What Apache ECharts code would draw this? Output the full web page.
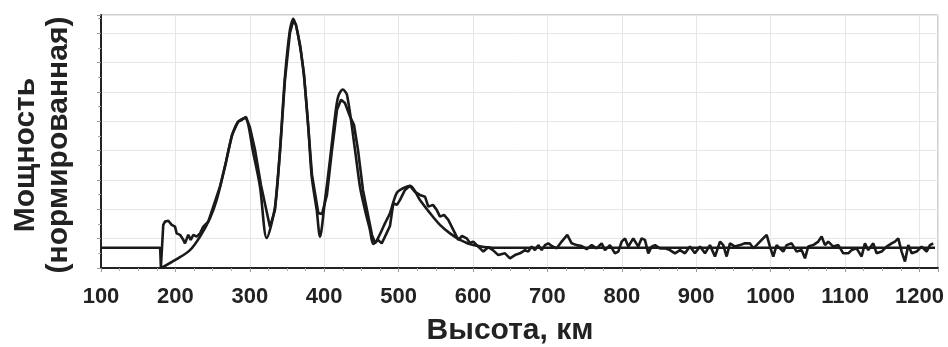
<!DOCTYPE html>
<html>
<head>
<meta charset="utf-8">
<script src="https://cdn.jsdelivr.net/npm/echarts@6/dist/echarts.min.js"></script>
<style>html,body{margin:0;padding:0;background:#fff}#c{width:948px;height:347px}</style>
</head>
<body>
<div id="c"></div>
<script>
// Model (smooth) profile: height (km) and normalized power
var modelKm = [181, 201.7, 219.6, 233.1, 246.5, 255.5, 266.7, 275.7, 284.5, 293.5, 304.7, 313.7, 322.7,
  333.9, 340.6, 347.3, 354.0, 358.5, 365.2, 371.9, 378.6, 383.2, 389.9, 394.3,
  401.1, 407.8, 414.5, 418.9, 424.8, 430.6, 441.4, 448.1, 454.8, 461.5, 466.0,
  484.0, 488.4, 497.4, 506.3, 515.3, 528.7, 542.2, 555.6, 569.1, 582.5, 600.4, 627.3, 1221];
var modelPower = [0, 0.30, 0.61, 1.07, 1.70, 2.32, 3.46, 4.48, 4.99, 5.11, 3.91, 2.77, 1.02,
  2.09, 4.03, 6.53, 8.12, 8.49, 7.89, 6.76, 4.82, 3.12, 1.98, 1.07,
  2.32, 3.69, 5.16, 5.85, 6.08, 5.90, 4.03, 2.77, 1.98, 1.30, 0.82,
  1.64, 1.87, 2.55, 2.72, 2.80, 2.32, 1.87, 1.47, 1.18, 0.96, 0.78, 0.69, 0.69];

// Measured (noisy) profile
var measKm = [100, 179.5, 180.5, 183.7, 186.0, 190.5, 195.0, 199.5, 201.7, 206.2, 210.6, 212.9, 217.3,
  220.6, 224.1, 228.6, 233.1, 237.5, 244.2, 250.9, 259.9, 268.0, 276.1, 284.1, 289.5, 294.9,
  300.3, 307.0, 315.0, 327.1, 333.9, 340.6, 347.3, 354.0, 358.5, 362.1, 367.5, 372.9, 378.3,
  383.6, 392.1, 397.0, 403.7, 410.5, 417.2, 422.6, 427.9, 434.7, 440.0, 445.4, 452.1, 458.8,
  464.2, 468.2, 472.3, 477.3, 481.7, 488.4, 492.9, 497.8, 501.9, 508.6, 515.3, 522.0, 528.7,
  535.5, 539.9, 546.2, 551.2, 555.6, 561.0, 566.8, 573.5, 580.2, 585.2, 591.5, 595.9, 600.4,
  607.1, 613.8, 620.5, 626.8, 634.0, 636.3, 643.0, 649.7, 656.4, 663.1, 669.9, 674.3, 678.8,
  683.3, 687.7, 692.3, 696.7, 701.2, 705.7, 712.5, 719.2, 726.7, 732.6, 739.3, 746.1, 752.8,
  759.5, 766.2, 772.9, 777.4, 784.1, 790.8, 795.3, 799.8, 804.3, 808.7, 815.4, 822.1, 826.7,
  831.1, 835.6, 840.1, 844.6, 851.3, 858.0, 864.7, 871.5, 878.2, 884.9, 891.6, 898.3, 905.1,
  911.8, 918.5, 925.2, 932.0, 936.4, 940.9, 945.4, 952.1, 958.8, 965.5, 972.3, 976.7, 981.2,
  988.0, 994.7, 999.1, 1003.6, 1008.1, 1017.0, 1021.6, 1028.3, 1035.0, 1041.7, 1046.2, 1050.6,
  1057.3, 1064.1, 1068.6, 1073.1, 1077.5, 1084.2, 1091.0, 1097.7, 1104.4, 1108.9, 1115.6,
  1122.3, 1126.8, 1131.3, 1138.0, 1142.5, 1149.3, 1156.0, 1162.7, 1167.1, 1171.6, 1176.1,
  1180.6, 1185.1, 1189.6, 1196.3, 1203.0, 1209.7, 1214.2, 1218.6];
var measPower = [0.69, 0.69, 0.03, 1.47, 1.58, 1.61, 1.47, 1.41, 1.18, 1.13, 0.96, 0.84, 1.13,
  0.96, 1.13, 1.07, 1.18, 1.41, 1.58, 2.09, 2.77, 3.62, 4.54, 4.98, 5.05, 5.15,
  4.78, 4.03, 2.83, 1.40, 1.98, 3.96, 6.42, 8.02, 8.43, 8.29, 7.61, 6.59, 4.88,
  3.17, 1.87, 1.84, 2.49, 4.03, 5.39, 5.73, 5.62, 5.16, 4.88, 4.03, 2.66, 1.81,
  1.13, 0.85, 0.96, 0.84, 1.07, 1.43, 2.21, 2.15, 2.32, 2.66, 2.80, 2.59, 2.49,
  2.43, 2.09, 2.15, 1.98, 1.75, 1.81, 1.64, 1.30, 0.96, 1.09, 1.01, 0.85, 0.90,
  0.73, 0.56, 0.71, 0.61, 0.44, 0.39, 0.50, 0.33, 0.44, 0.50, 0.61, 0.56, 0.73,
  0.61, 0.78, 0.61, 0.78, 0.84, 0.75, 0.67, 0.90, 1.13, 0.84, 0.78, 0.75, 0.64,
  0.78, 0.67, 0.84, 0.61, 0.78, 0.50, 0.56, 0.90, 1.01, 0.73, 1.01, 0.73, 1.01,
  0.96, 0.50, 0.73, 0.78, 0.67, 0.67, 0.61, 0.50, 0.61, 0.50, 0.73, 0.50, 0.73,
  0.50, 0.78, 0.39, 0.90, 0.78, 0.39, 0.84, 0.73, 0.78, 0.84, 0.84, 0.67, 0.78,
  0.96, 1.13, 0.73, 0.39, 0.78, 0.56, 0.78, 0.84, 0.56, 0.61, 0.33, 0.73,
  0.78, 0.90, 1.07, 0.78, 0.90, 0.73, 0.78, 0.50, 0.50, 0.61, 0.67,
  0.39, 0.84, 0.61, 0.84, 0.50, 0.56, 0.73, 0.84, 0.90, 1.01, 0.56,
  0.22, 0.78, 0.50, 0.56, 0.73, 0.56, 0.78, 0.84];

var xAxisTitle = 'Высота, км';
var yAxisTitleTop = 'Мощность';
var yAxisTitleBottom = '(нормированная)';

function pairs(xs, ys) { return xs.map(function (x, i) { return [x, ys[i]]; }); }

var chart = echarts.init(document.getElementById('c'), null, { renderer: 'canvas' });
var FONT = 'Liberation Sans, Arial, sans-serif';
chart.setOption({
  animation: false,
  backgroundColor: '#fff',
  grid: {
    left: 101, right: 10, top: 15, bottom: 79, show: true, borderColor: '#a0a0a0', borderWidth: 1,
    containLabel: false, outerBoundsMode: 'none'
  },
  xAxis: {
    type: 'value', min: 100, max: 1225, interval: 100,
    axisLine: { show: true, onZero: false, lineStyle: { color: '#222', width: 2 } },
    axisTick: { show: true, length: 4, lineStyle: { color: '#999' } },
    minorTick: { show: true, splitNumber: 4, length: 3, lineStyle: { color: '#aaa' } },
    splitLine: { show: true, lineStyle: { color: '#e6e6e6', width: 1 } },
    axisLabel: {
      margin: 18, color: '#222', fontSize: 22, fontWeight: 'bold', fontFamily: FONT,
      formatter: function (v) { return Math.abs(v % 100) < 1e-6 ? String(v) : ''; }
    },
    name: xAxisTitle, nameLocation: 'middle', nameGap: 48,
    nameTextStyle: { color: '#222', fontSize: 30, fontWeight: 'bold', fontFamily: FONT, padding: [0, 19, 0, 0] }
  },
  yAxis: {
    type: 'value', min: 0, max: 8.62, interval: 1,
    axisLine: { show: true, onZero: false, lineStyle: { color: '#222', width: 2 } },
    axisTick: { show: true, length: 4, lineStyle: { color: '#999' } },
    minorTick: { show: true, splitNumber: 2, length: 3, lineStyle: { color: '#aaa' } },
    splitLine: { show: true, lineStyle: { color: '#e6e6e6', width: 1 } },
    axisLabel: { show: false },
    name: '{a|' + yAxisTitleTop + '}\n{b|' + yAxisTitleBottom + '}',
    nameLocation: 'middle', nameRotate: 90, nameGap: 26,
    nameTextStyle: {
      color: '#222', fontSize: 30, fontWeight: 'bold', fontFamily: FONT, lineHeight: 33,
      rich: {
        a: { color: '#222', fontSize: 30, fontWeight: 'bold', fontFamily: FONT, lineHeight: 33, padding: [0, 27, 0, 0] },
        b: { color: '#222', fontSize: 30, fontWeight: 'bold', fontFamily: FONT, lineHeight: 33, padding: [0, 7, 0, 0] }
      }
    }
  },
  series: [
    {
      name: 'model', type: 'line', data: pairs(modelKm, modelPower), smooth: 0.3,
      showSymbol: false, lineStyle: { color: '#1a1a1a', width: 2.6 }, z: 3
    },
    {
      name: 'measured', type: 'line', data: pairs(measKm, measPower),
      showSymbol: false, lineStyle: { color: '#1a1a1a', width: 2.6 }, z: 4
    }
  ]
});
</script>
</body>
</html>
